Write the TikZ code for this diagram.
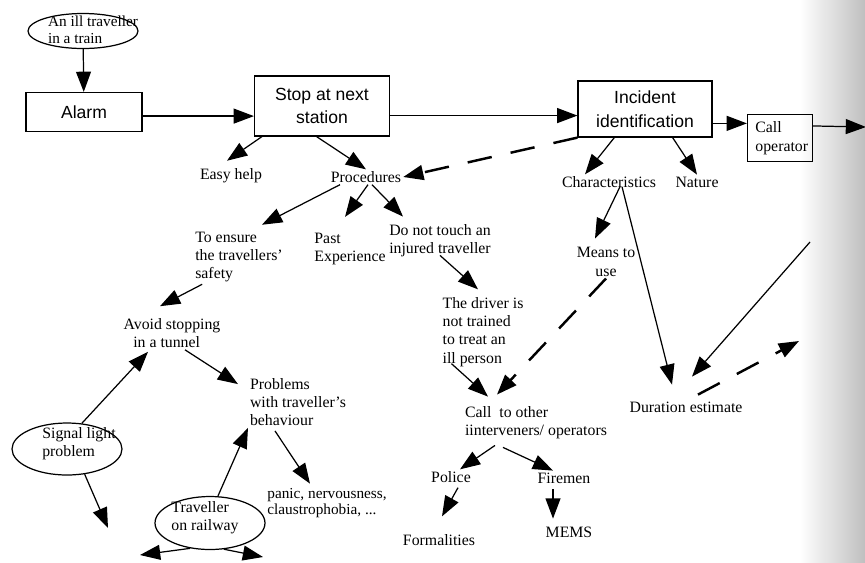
\documentclass[tikz,border=0pt]{standalone}
\usepackage{fontspec}
\setmainfont{Liberation Serif}
\newfontfamily\boxfont{Liberation Sans}
\usetikzlibrary{arrows.meta,shapes.geometric,calc}
\tikzset{box/.style={draw, line width=0.7pt, inner sep=0pt, align=center, font=\boxfont\fontsize{10}{13.5}\selectfont}}
\tikzset{smallbox/.style={draw, line width=0.7pt, inner sep=1pt, align=left, font=\fontsize{9}{11}\selectfont}}
\tikzset{oval/.style={draw, ellipse, line width=0.7pt, inner sep=0pt}}
\tikzset{lbl/.style={inner sep=1pt, align=left, font=\fontsize{9}{10.4}\selectfont}}
\tikzset{arr/.style={draw, line width=0.7pt, -{Triangle[length=11.5pt,width=8.5pt]}}}
\tikzset{dasharr/.style={arr, line width=1.4pt, dash pattern=on 14pt off 11pt}}

\begin{document}
\begin{tikzpicture}[x=0.02cm, y=-0.02cm]
\useasboundingbox (0,0) rectangle (865,562);
\shade[left color=white, right color=black!25] (800,0) rectangle (865,562);

% top row
\node[oval, minimum width=2.2cm, minimum height=0.7cm] (ill) at (83,31) {};
\node[lbl, font=\fontsize{8.7}{9.6}\selectfont] (illtxt) at (93,30) {An ill traveller\\in a train};
\node[box, minimum width=2.32cm, minimum height=0.78cm] (alarm) at (84,112) {Alarm};
\node[box, minimum width=2.7cm, minimum height=1.2cm] (stop) at (322,106) {Stop at next\\station};
\node[box, minimum width=2.68cm, minimum height=1.12cm] (incid) at (645,109) {Incident\\identification};
\node[smallbox, minimum width=1.3cm, minimum height=0.94cm] (callop) at (780,138) {\hspace*{2pt}Call\\\hspace*{2pt}operator};

% labels
\node[lbl] (easy) at (231,176) {Easy help};
\node[lbl] (proc) at (366,177) {Procedures};
\node[lbl] (charac) at (609,182) {Characteristics};
\node[lbl] (nature) at (697,182) {Nature};
\node[lbl] (ensure) at (239,257) {To ensure\\the travellers'\\safety};
\node[lbl] (past) at (350,249) {Past\\Experience};
\node[lbl] (donot) at (440,241) {Do not touch an\\injured traveller};
\node[lbl] (driver) at (483,332) {The driver is\\not trained\\to treat an\\ill person};
\node[lbl, align=center] (means) at (606,262) {Means to\\use};
\node[lbl] (avoid) at (172,333) {Avoid stopping\\\hspace*{5.5pt}in a tunnel};
\node[lbl] (probl) at (298,402) {Problems\\with traveller's\\behaviour};
\node[lbl, font=\fontsize{8.7}{8.6}\selectfont] (panic) at (327,503) {panic, nervousness,\\claustrophobia, ...};
\node[lbl] (callother) at (536,423) {Call\ \ to other\\iinterveners/ operators};
\node[lbl] (police) at (451,477) {Police};
\node[lbl] (firemen) at (564,478) {Firemen};
\node[lbl] (formal) at (439,540) {Formalities};
\node[lbl] (mems) at (569,532) {MEMS};
\node[lbl] (durat) at (686,407) {Duration estimate};

% ovals
\node[oval, minimum width=2.2cm, minimum height=1.04cm] (signal) at (67,449) {};
\node[lbl] (sigtxt) at (79,444) {Signal light\\problem};
\node[oval, minimum width=2.2cm, minimum height=1.06cm] (trav) at (210,523) {};
\node[lbl] (travtxt) at (205,518) {Traveller\\on railway};

% loose ends
\coordinate (outR) at (866,127);
\coordinate (inR) at (810,242);
\coordinate (dashR) at (799,341);
\coordinate (sigD) at (108,528);
\coordinate (travL) at (140,555);
\coordinate (travR) at (263,557);

% connectors
\draw[arr] (ill) -- (alarm);
\draw[arr] (alarm.-4) -- (alarm.-4 -| stop.west);
\draw[arr] (stop.-8) -- (stop.-8 -| incid.west);
\draw[arr] (incid.-12) -- (incid.-12 -| callop.west);
\draw[arr] (callop.20) -- (outR);
\draw[arr] (stop.207) -- ($(easy.north)+(-4,-6)$);
\draw[arr] (stop.-100) -- (proc.north);
\draw[dasharr] (incid.south west) -- (proc.east);
\draw[arr] (incid.223) -- ($(charac.north)+(-24,0)$);
\draw[arr] (incid.-46) -- (nature.north);
\draw[arr] ($(proc.south)+(-26,0)$) -- ($(ensure.north)+(23,-5)$);
\draw[arr] ($(proc.south)+(2,0)$) -- ($(past.north)+(-5,-14)$);
\draw[arr] ($(proc.south)+(6,0)$) -- ($(donot.north)+(-37,-6)$);
\draw[arr] ($(donot.south)+(0,-4)$) -- ($(driver.north)+(-5,-6)$);
\draw[arr] ($(driver.south west)+(11,-5)$) -- ($(callother.north west)+(25,-8)$);
\draw[dasharr] (means.south) -- ($(callother.north west)+(34,-10)$);
\draw[arr] ($(charac.south)+(11,-3)$) -- ($(means.north)+(-11,-7)$);
\draw[arr] ($(charac.south)+(13,-3)$) -- ($(durat.north)+(-14,-15)$);
\draw[arr] (inR) -- ($(durat.north)+(6,-23)$);
\draw[dasharr] ($(durat.north)+(12,-5)$) -- (dashR);
\draw[arr] ($(ensure.south west)+(9,0)$) -- ($(avoid.north)+(-12,-10)$);
\draw[arr] ($(avoid.south)+(13,0)$) -- ($(probl.north west)+(-10,8)$);
\draw[arr] (signal.60) -- ($(avoid.south)+(-24,2)$);
\draw[arr] (signal.-55) -- (sigD);
\draw[arr] ($(trav.north)+(8,0)$) -- (probl.south west);
\draw[arr] ($(probl.south)+(-23,3)$) -- ($(panic.north)+(-17,-3)$);
\draw[arr] (trav.232) -- (travL);
\draw[arr] (trav.-62) -- (travR);
\draw[arr] ($(callother.south)+(-41,4)$) -- ($(police.north)+(9,0)$);
\draw[arr] ($(callother.south)+(-33,6)$) -- ($(firemen.north)+(-11,0)$);
\draw[arr] ($(police.south)+(7,3)$) -- ($(formal.north)+(3,-16)$);
\draw[arr] ($(firemen.south)+(-11,4)$) -- ($(mems.north)+(-16,-6)$);
\end{tikzpicture}
\end{document}
